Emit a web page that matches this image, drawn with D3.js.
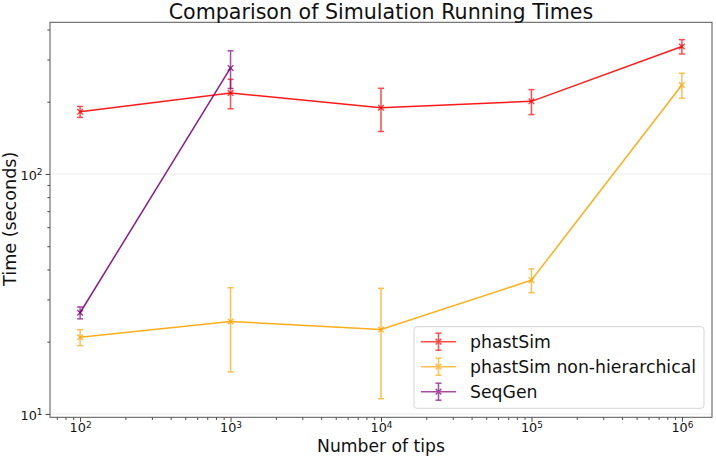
<!DOCTYPE html>
<html><head><meta charset="utf-8">
<script src="https://cdn.jsdelivr.net/npm/d3@7"></script>
<style>body{margin:0;background:#fff}svg{display:block;font-family:"DejaVu Sans",sans-serif}</style>
</head><body><svg id="c" width="716" height="458"></svg>
<script>
// ---- data ----
const tips = [1e2, 1e3, 1e4, 1e5, 1e6];
const phastSimTime = [181.6, 217.4, 188.9, 200.7, 339.6];
const phastSimErr = [9.5, 30.5, 38.6, 24.0, 23.3];
const nonHierTime = [20.85, 24.27, 22.47, 36.1, 234.9];
const nonHierErr = [1.6, 9.3, 10.9, 4.1, 28.0];
const seqGenTips = [1e2, 1e3];
const seqGenTime = [26.4, 276.6];
const seqGenErr = [1.5, 49.5];
const seriesNames = ["phastSim", "phastSim non-hierarchical", "SeqGen"];
const seriesColors = ["#ff0000", "#ffa500", "#800080"];
const xMajorTicks = [1e2, 1e3, 1e4, 1e5, 1e6];
const yMajorTicks = [10, 100];
const titleText = "Comparison of Simulation Running Times";
const xLabelText = "Number of tips";
const yLabelText = "Time (seconds)";

// ---- layout ----
const svg = d3.select("#c");
const L = 50, R = 712, T = 22.3, B = 417.3;
const x = d3.scaleLog().domain([Math.pow(10, 1.8), Math.pow(10, 6.2)]).range([L, R]);
const y = d3.scaleLog().domain([9.68, 428.6]).range([B, T]);

function minorTicks(scale) {
  const [a, b] = scale.domain();
  const out = [];
  for (let e = Math.floor(Math.log10(a)); e <= Math.ceil(Math.log10(b)); e++) {
    for (let m = 2; m <= 9; m++) {
      const v = m * Math.pow(10, e);
      if (v >= a && v <= b) out.push(v);
    }
  }
  return out;
}

// grid at major y ticks
svg.append("g").selectAll("line").data(yMajorTicks).join("line")
  .attr("x1", L).attr("x2", R).attr("y1", d => y(d)).attr("y2", d => y(d))
  .attr("stroke", "#ebebeb").attr("stroke-width", 1);

function supLabel(sel) {
  sel.each(function (d) {
    const t = d3.select(this);
    t.text("");
    t.append("tspan").text("10");
    t.append("tspan").attr("font-size", "0.7em").attr("dy", "-0.5em").text(Math.round(Math.log10(d)));
  });
}

// x axis
const gx = svg.append("g").attr("transform", `translate(0,${B})`);
gx.call(d3.axisBottom(x).tickValues(xMajorTicks).tickSize(4.5).tickPadding(1.5).tickFormat(() => ""));
gx.append("g").call(d3.axisBottom(x).tickValues(minorTicks(x)).tickSize(2.6).tickFormat(() => ""));
gx.selectAll(".domain").remove();
gx.selectAll("line").attr("stroke", "#444");
gx.selectAll("g.tick").filter(d => xMajorTicks.includes(d)).select("text")
  .attr("font-size", 12.8).attr("font-family", "DejaVu Sans").attr("fill", "#111")
  .attr("dy", "0.71em").call(supLabel);

// y axis
const gy = svg.append("g").attr("transform", `translate(${L},0)`);
gy.call(d3.axisLeft(y).tickValues(yMajorTicks).tickSize(4.5).tickPadding(3).tickFormat(() => ""));
gy.append("g").call(d3.axisLeft(y).tickValues(minorTicks(y)).tickSize(2.6).tickFormat(() => ""));
gy.selectAll(".domain").remove();
gy.selectAll("line").attr("stroke", "#444");
gy.selectAll("g.tick").filter(d => yMajorTicks.includes(d)).select("text")
  .attr("font-size", 12.8).attr("font-family", "DejaVu Sans").attr("fill", "#111")
  .attr("dy", "0.4em").call(supLabel);

// series
const series = [
  { xs: tips, ys: phastSimTime, es: phastSimErr },
  { xs: tips, ys: nonHierTime, es: nonHierErr },
  { xs: seqGenTips, ys: seqGenTime, es: seqGenErr }
];
const line = d3.line().x(d => x(d[0])).y(d => y(d[1]));
const cap = 3, mk = 2.8;
series.forEach((s, i) => {
  const col = seriesColors[i];
  const pts = s.xs.map((v, j) => [v, s.ys[j], s.es[j]]);
  const g = svg.append("g");
  g.append("path").datum(pts).attr("d", line).attr("fill", "none")
    .attr("stroke", col).attr("stroke-width", 1.5).attr("opacity", 0.9);
  const eb = g.append("g").attr("stroke", col).attr("stroke-width", 1.5).attr("opacity", 0.7);
  eb.selectAll("line.v").data(pts).join("line").attr("class", "v")
    .attr("x1", d => x(d[0])).attr("x2", d => x(d[0]))
    .attr("y1", d => y(d[1] - d[2])).attr("y2", d => y(d[1] + d[2]));
  eb.selectAll("line.c1").data(pts).join("line").attr("class", "c1")
    .attr("x1", d => x(d[0]) - cap).attr("x2", d => x(d[0]) + cap)
    .attr("y1", d => y(d[1] - d[2])).attr("y2", d => y(d[1] - d[2]));
  eb.selectAll("line.c2").data(pts).join("line").attr("class", "c2")
    .attr("x1", d => x(d[0]) - cap).attr("x2", d => x(d[0]) + cap)
    .attr("y1", d => y(d[1] + d[2])).attr("y2", d => y(d[1] + d[2]));
  g.selectAll("path.m").data(pts).join("path").attr("class", "m")
    .attr("d", d => { const cx = x(d[0]), cy = y(d[1]); return `M${cx - mk},${cy - mk}L${cx + mk},${cy + mk}M${cx - mk},${cy + mk}L${cx + mk},${cy - mk}`; })
    .attr("stroke", col).attr("stroke-width", 1.3).attr("opacity", 0.8);
});

// frame
svg.append("rect").attr("x", L).attr("y", T).attr("width", R - L).attr("height", B - T)
  .attr("fill", "none").attr("stroke", "#555").attr("stroke-width", 1);

// titles
svg.append("text").attr("x", (L + R) / 2).attr("y", 18.5).attr("text-anchor", "middle")
  .attr("font-size", 20.6).attr("fill", "#111").text(titleText);
svg.append("text").attr("x", (L + R) / 2).attr("y", 452).attr("text-anchor", "middle")
  .attr("font-size", 17.2).attr("fill", "#111").text(xLabelText);
svg.append("text").attr("transform", `translate(16,${(T + B) / 2 - 1}) rotate(-90)`).attr("text-anchor", "middle")
  .attr("font-size", 17.6).attr("fill", "#111").text(yLabelText);

// legend
const lg = svg.append("g");
lg.append("rect").attr("x", 414).attr("y", 326.7).attr("width", 290).attr("height", 81.6)
  .attr("rx", 3).attr("fill", "#fff").attr("fill-opacity", 0.85).attr("stroke", "#d6d6d6");
seriesNames.forEach((n, i) => {
  const yy = 341.7 + i * 25, col = seriesColors[i];
  const h = lg.append("g").attr("stroke", col).attr("stroke-width", 1.5).attr("opacity", 0.7);
  h.append("line").attr("x1", 421).attr("x2", 456).attr("y1", yy).attr("y2", yy);
  h.append("line").attr("x1", 438.5).attr("x2", 438.5).attr("y1", yy - 8.5).attr("y2", yy + 8.5);
  h.append("line").attr("x1", 435.5).attr("x2", 441.5).attr("y1", yy - 8.5).attr("y2", yy - 8.5);
  h.append("line").attr("x1", 435.5).attr("x2", 441.5).attr("y1", yy + 8.5).attr("y2", yy + 8.5);
  h.append("path").attr("d", `M${438.5 - mk},${yy - mk}L${438.5 + mk},${yy + mk}M${438.5 - mk},${yy + mk}L${438.5 + mk},${yy - mk}`);
  lg.append("text").attr("x", 470).attr("y", yy).attr("dy", "0.36em").attr("font-size", 17.3)
    .attr("fill", "#111").text(n);
});
</script></body></html>
